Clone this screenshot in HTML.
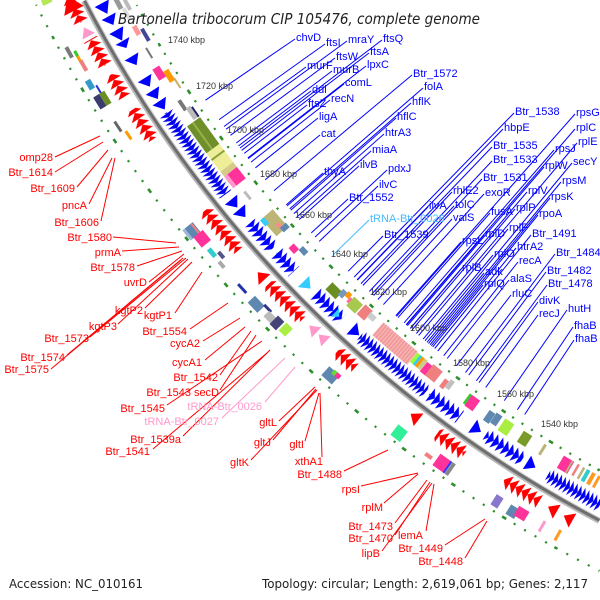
<!DOCTYPE html>
<html><head><meta charset="utf-8"><style>
html,body{margin:0;padding:0;background:#fff;width:600px;height:600px;overflow:hidden;}
svg{display:block;overflow:hidden;}
.b{fill:#0000ff;font-family:"Liberation Sans",sans-serif;font-size:11px;}
.r{fill:#ff0000;font-family:"Liberation Sans",sans-serif;font-size:11px;}
.k{fill:#333;font-family:"Liberation Sans",sans-serif;font-size:9px;}
</style></head><body>
<svg width="600" height="600" viewBox="0 0 600 600" xmlns="http://www.w3.org/2000/svg">
<defs>
<pattern id="rt" patternUnits="userSpaceOnUse" x="0" y="-1240" width="7" height="16"><polygon points="0,0 7,8 0,16" fill="#ff0000"/></pattern>
<pattern id="bt" patternUnits="userSpaceOnUse" x="0" y="-1213" width="6" height="16"><polygon points="6,0 0,8 6,16" fill="#0000ff"/></pattern>
<pattern id="bd" patternUnits="userSpaceOnUse" x="0" y="-1213" width="4.5" height="16"><polygon points="4.5,0 0,8 4.5,16" fill="#0000ee"/></pattern>
<pattern id="st" patternUnits="userSpaceOnUse" x="0" y="0" width="3" height="20"><rect x="0" y="0" width="3" height="20" fill="#f29a9a"/><rect x="1.5" y="0" width="0.8" height="20" fill="#f8c4c4"/></pattern>
</defs>
<rect width="600" height="600" fill="#fff"/>
<g transform="translate(1168,-558)" fill="none">
<!-- dotted rings -->
<path d="M -568.5 1128.9 A 1264 1264 0 0 1 -1131.9 562.7" stroke="#2d8f2d" stroke-width="2.2" stroke-dasharray="2.1 10.0295" stroke-dashoffset="1.05"/>
<path d="M -611.5 1106.3 A 1264 1264 0 0 1 -1115.2 595.0" stroke="#2d8f2d" stroke-width="2.6" stroke-dasharray="4.8 55.847" stroke-dashoffset="2.4"/>
<path d="M -568.4 1028.4 A 1175 1175 0 0 1 -1031.3 563.0" stroke="#2d8f2d" stroke-width="2.2" stroke-dasharray="2.1 9.1752" stroke-dashoffset="1.05"/>
<path d="M -568.4 1028.4 A 1175 1175 0 0 1 -1009.0 602.2" stroke="#2d8f2d" stroke-width="2.6" stroke-dasharray="4.8 51.576" stroke-dashoffset="2.4"/>
<!-- backbone -->
<path d="M -568.8 1078.7 A 1219.5 1219.5 0 0 1 -1083.9 558.9" stroke="#a8a8a8" stroke-width="6"/>
<path d="M -568.5 1078.3 A 1219 1219 0 0 1 -1083.4 558.7" stroke="#6e6e6e" stroke-width="3"/>
<path d="M -567.6 1076.4 A 1216.9 1216.9 0 0 1 -1081.6 557.8" stroke="#d0d0d0" stroke-width="1"/>
<path d="M -569.8 1080.8 A 1221.8 1221.8 0 0 1 -1085.9 560.0" stroke="#bdbdbd" stroke-width="1.2"/>
</g>

<g transform="translate(1168,-558)">
<!-- red forward chains -->
<rect transform="rotate(242.6)" x="-15" y="-1240" width="30" height="16" fill="url(#rt)"/>
<rect transform="rotate(240.3)" x="-15" y="-1240" width="30" height="16" fill="url(#rt)"/>
<rect transform="rotate(238.5)" x="-13" y="-1240" width="26" height="16" fill="url(#rt)"/>
<rect transform="rotate(236.35)" x="-18" y="-1240" width="36" height="16" fill="url(#rt)"/>
<rect transform="rotate(230.2)" x="-26" y="-1240" width="52" height="16" fill="url(#rt)"/>
<rect transform="rotate(225.75)" x="-24.5" y="-1240" width="49" height="16" fill="url(#rt)"/>
<rect transform="rotate(221.85)" x="-12" y="-1240" width="24" height="16" fill="url(#rt)"/>
<rect transform="rotate(215.6)" x="-17" y="-1240" width="34" height="16" fill="url(#rt)"/>
<rect transform="rotate(211.65)" x="-20.5" y="-1240" width="41" height="16" fill="url(#rt)"/>
<polygon transform="rotate(227.4)" points="-5,-1240 5,-1232 -5,-1224" fill="#ff0000"/>
<polygon transform="rotate(217.7)" points="-5,-1240 5,-1232 -5,-1224" fill="#ff0000"/>
<polygon transform="rotate(209.98)" points="-5,-1240 5,-1232 -5,-1224" fill="#ff0000"/>
<polygon transform="rotate(209.14)" points="-5,-1240 5,-1232 -5,-1224" fill="#ff0000"/>
<polygon transform="rotate(242.9)" points="-8,-1244 8,-1232 -8,-1222" fill="#ff0000"/>
<polygon transform="rotate(241.4)" points="-5,-1239 5,-1232 -5,-1225" fill="#ff99cc"/>
<polygon transform="rotate(223.95)" points="-5,-1239 5,-1232 -5,-1225" fill="#ff99cc"/>
<polygon transform="rotate(223.35)" points="-5,-1239 5,-1232 -5,-1225" fill="#ff99cc"/>

<!-- blue reverse chains -->
<rect transform="rotate(233.8)" x="-50.5" y="-1213" width="101" height="16" fill="url(#bd)"/>
<rect transform="rotate(228.8)" x="-17" y="-1213" width="34" height="16" fill="url(#bt)"/>
<rect transform="rotate(227.1)" x="-12.5" y="-1213" width="25" height="16" fill="url(#bt)"/>
<rect transform="rotate(224.15)" x="-18" y="-1213" width="36" height="16" fill="url(#bt)"/>
<rect transform="rotate(220.05)" x="-43" y="-1213" width="86" height="16" fill="url(#bd)"/>
<rect transform="rotate(216.9)" x="-19" y="-1213" width="38" height="16" fill="url(#bt)"/>
<rect transform="rotate(213.45)" x="-22" y="-1213" width="44" height="16" fill="url(#bt)"/>
<rect transform="rotate(209.55)" x="-30" y="-1213" width="60" height="16" fill="url(#bd)"/>
<g fill="#0000ff">
<polygon transform="rotate(241.95)" points="6,-1213 -6,-1205 6,-1197"/>
<polygon transform="rotate(241.3)" points="5,-1213 -5,-1205 5,-1197"/>
<polygon transform="rotate(240.5)" points="6,-1213 -6,-1205 6,-1197"/>
<polygon transform="rotate(240.0)" points="4,-1213 -4,-1205 4,-1197"/>
<polygon transform="rotate(239.1)" points="5,-1213 -5,-1205 5,-1197"/>
<polygon transform="rotate(237.9)" points="5,-1213 -5,-1205 5,-1197"/>
<polygon transform="rotate(237.2)" points="5,-1213 -5,-1205 5,-1197"/>
<polygon transform="rotate(236.6)" points="5,-1213 -5,-1205 5,-1197"/>
<polygon transform="rotate(230.8)" points="5,-1213 -5,-1205 5,-1197"/>
<polygon transform="rotate(230.2)" points="5,-1213 -5,-1205 5,-1197"/>
<polygon transform="rotate(222.4)" points="5,-1213 -5,-1205 5,-1197"/>
<polygon transform="rotate(215.0)" points="5,-1213 -5,-1205 5,-1197"/>
<polygon transform="rotate(211.9)" points="5,-1213 -5,-1205 5,-1197"/>
</g>
<polygon transform="rotate(225.6)" points="5,-1213 -5,-1205 5,-1197" fill="#33ccff"/>
<polygon transform="rotate(223.6)" points="3,-1211 -3,-1205 3,-1199" fill="#33ccff"/>

<!-- outer blocks -->
<rect transform="rotate(243.5)" x="-3" y="-1258" width="6" height="10" fill="#b5e655"/>
<rect transform="rotate(240.95)" x="-6" y="-1259" width="12" height="4" fill="#7a7a7a"/>
<rect transform="rotate(240.6)" x="-6" y="-1253" width="12" height="3" fill="#ff9900"/>
<rect transform="rotate(240.75)" x="-3" y="-1253" width="6" height="3" fill="#33cc33"/>
<rect transform="rotate(240.1)" x="-6" y="-1253" width="12" height="4" fill="#f08080"/>
<rect transform="rotate(239.2)" x="-5" y="-1258" width="10" height="6" fill="#3399cc"/>
<rect transform="rotate(238.8)" x="-5" y="-1251" width="10" height="2" fill="#2233cc"/>
<rect transform="rotate(238.3)" x="-7" y="-1259" width="14" height="7" fill="#3b3b6e"/>
<rect transform="rotate(238.3)" x="-7" y="-1252" width="14" height="6" fill="#6b8e23"/>
<rect transform="rotate(236.9)" x="-6" y="-1255" width="12" height="3" fill="#666"/>
<rect transform="rotate(236.3)" x="-5" y="-1251" width="10" height="3" fill="#ff9900"/>
<rect transform="rotate(231.07)" x="-7" y="-1262" width="13" height="13" fill="#5f88b0"/>
<rect transform="rotate(231.07)" x="-7" y="-1262" width="13" height="3" fill="#9bbad6"/>
<rect transform="rotate(231.07)" x="-7" y="-1252" width="13" height="2" fill="#f08080"/>
<rect transform="rotate(230.5)" x="-7" y="-1258" width="13" height="12" fill="#ff3399"/>
<rect transform="rotate(229.7)" x="-5" y="-1256" width="10" height="5" fill="#33cccc"/>
<rect transform="rotate(229.35)" x="-4" y="-1250" width="8" height="4" fill="#555588"/>
<rect transform="rotate(229.0)" x="-4" y="-1256" width="8" height="4" fill="#aaaaaa"/>
<rect transform="rotate(227.56)" x="-6" y="-1256" width="12" height="3" fill="#2233aa"/>
<rect transform="rotate(226.6)" x="-7" y="-1260" width="14" height="10" fill="#5f88b0"/>
<rect transform="rotate(226.1)" x="-5" y="-1251" width="10" height="3" fill="#333388"/>
<rect transform="rotate(225.7)" x="-6" y="-1258" width="12" height="8" fill="#bbbbbb"/>
<rect transform="rotate(225.35)" x="-5" y="-1259" width="9" height="12" fill="#444477"/>
<rect transform="rotate(224.85)" x="-5" y="-1257" width="9" height="11" fill="#aaee44"/>
<rect transform="rotate(221.9)" x="-7" y="-1260" width="14" height="12" fill="#5f88b0"/>
<rect transform="rotate(221.65)" x="-3" y="-1252" width="6" height="5" fill="#ff3399"/>
<rect transform="rotate(221.85)" x="-2" y="-1252" width="4" height="5" fill="#66dd33"/>
<rect transform="rotate(217.8)" x="-6" y="-1261" width="12" height="13" fill="#33ee99"/>
<rect transform="rotate(216.1)" x="-4" y="-1257" width="8" height="4" fill="#f08080"/>
<rect transform="rotate(215.4)" x="-7" y="-1260" width="14" height="14" fill="#ff3399"/>
<rect transform="rotate(215.1)" x="-1" y="-1260" width="2" height="14" fill="#3333ff"/>
<rect transform="rotate(214.95)" x="-2" y="-1260" width="4" height="14" fill="#888"/>
<rect transform="rotate(212.35)" x="-4" y="-1260" width="8" height="12" fill="#8877cc"/>
<rect transform="rotate(211.5)" x="-5" y="-1260" width="10" height="11" fill="#5f88b0"/>
<rect transform="rotate(211.1)" x="-6" y="-1257" width="12" height="11" fill="#ff3399"/>
<rect transform="rotate(210.0)" x="-1.5" y="-1258" width="3" height="12" fill="#ff99cc"/>
<rect transform="rotate(209.17)" x="-1.5" y="-1258" width="3" height="12" fill="#ff9922"/>

<!-- inner blocks -->
<rect transform="rotate(241.9)" x="-7" y="-1193" width="14" height="5" fill="#999"/>
<rect transform="rotate(241.6)" x="-6" y="-1185" width="12" height="4" fill="#bbb"/>
<rect transform="rotate(241.25)" x="-6" y="-1190" width="12" height="4" fill="#ddd"/>
<rect transform="rotate(240.3)" x="-5" y="-1190" width="10" height="5" fill="#ff9999"/>
<rect transform="rotate(239.9)" x="-7" y="-1184" width="14" height="4" fill="#444499"/>
<rect transform="rotate(239.05)" x="-6" y="-1189" width="12" height="2" fill="#777"/>
<rect transform="rotate(237.97)" x="-6.5" y="-1194" width="13" height="8" fill="#ff3399"/>
<rect transform="rotate(237.6)" x="-6.5" y="-1186" width="13" height="6" fill="#ff9900"/>
<rect transform="rotate(237.1)" x="-6" y="-1181" width="12" height="2" fill="#ccaa66"/>
<rect transform="rotate(236.06)" x="-6" y="-1190" width="12" height="4" fill="#777"/>
<rect transform="rotate(235.5)" x="-7" y="-1187" width="14" height="5" fill="#bbb"/>
<rect transform="rotate(235.45)" x="-6" y="-1182" width="12" height="2" fill="#222266"/>
<rect transform="rotate(234.3)" x="-16.6" y="-1196" width="33.2" height="16" fill="#6f8f2a"/>
<rect transform="rotate(234.3)" x="-16.6" y="-1190" width="33.2" height="2" fill="#9ab04a"/>
<rect transform="rotate(232.95)" x="-11.4" y="-1196" width="22.8" height="16" fill="#eeee99"/>
<rect transform="rotate(233.1)" x="-1" y="-1196" width="2" height="16" fill="#8aa03a"/>
<rect transform="rotate(232.25)" x="-3.1" y="-1196" width="6.2" height="16" fill="#d4cc88"/>
<rect transform="rotate(231.75)" x="-7.25" y="-1196" width="14.5" height="16" fill="#ff3399"/>
<rect transform="rotate(231.75)" x="-7.25" y="-1196" width="14.5" height="4" fill="#ff99cc"/>
<rect transform="rotate(230.7)" x="-5" y="-1191" width="10" height="3" fill="#bbb"/>
<rect transform="rotate(228.85)" x="-11.4" y="-1194" width="22.8" height="15" fill="#bdb576"/>
<rect transform="rotate(229.2)" x="-4" y="-1196" width="8" height="5" fill="#33ccff"/>
<rect transform="rotate(228.6)" x="-3" y="-1187" width="6" height="4" fill="#ff8888"/>
<rect transform="rotate(228.35)" x="-3" y="-1186" width="6" height="8" fill="#5f88b0"/>
<rect transform="rotate(227.3)" x="-4" y="-1193" width="8" height="7" fill="#ff3399"/>
<rect transform="rotate(226.9)" x="-4" y="-1187" width="8" height="6" fill="#5f88b0"/>
<rect transform="rotate(224.5)" x="-7" y="-1195" width="14" height="10" fill="#6b8e23"/>
<rect transform="rotate(224.1)" x="-3" y="-1190" width="6" height="8" fill="#7799bb"/>
<rect transform="rotate(223.85)" x="-2.5" y="-1186" width="5" height="6" fill="#ff9900"/>
<rect transform="rotate(223.6)" x="-2.5" y="-1189" width="5" height="6" fill="#ff66aa"/>
<rect transform="rotate(223.3)" x="-6" y="-1192" width="12" height="12" fill="#a8c850"/>
<rect transform="rotate(222.7)" x="-5" y="-1191" width="10" height="13" fill="#f08080"/>
<rect transform="rotate(222.3)" x="-4" y="-1186" width="8" height="6" fill="#ccc"/>
<rect transform="rotate(220.6)" x="-22.8" y="-1196" width="45.6" height="17" fill="url(#st)"/>
<rect transform="rotate(219.4)" x="-2" y="-1192" width="4" height="12" fill="#99ff33"/>
<rect transform="rotate(219.25)" x="-1.5" y="-1192" width="3" height="12" fill="#33ccff"/>
<rect transform="rotate(219.1)" x="-2" y="-1192" width="4" height="12" fill="#ff9900"/>
<rect transform="rotate(218.95)" x="-2" y="-1192" width="4" height="12" fill="#cccc88"/>
<rect transform="rotate(218.65)" x="-4" y="-1193" width="8" height="12" fill="#ff3399"/>
<rect transform="rotate(218.25)" x="-6" y="-1193" width="12" height="14" fill="#f08080"/>
<rect transform="rotate(217.55)" x="-2.5" y="-1193" width="5" height="10" fill="#f08080"/>
<rect transform="rotate(217.3)" x="-2.5" y="-1190" width="5" height="10" fill="#c0c0c0"/>
<rect transform="rotate(216.2)" x="-1.5" y="-1192" width="3" height="12" fill="#33cc33"/>
<rect transform="rotate(215.9)" x="-5" y="-1193" width="10" height="13" fill="#ff3399"/>
<rect transform="rotate(214.85)" x="-3.5" y="-1194" width="7" height="12" fill="#5f88b0"/>
<rect transform="rotate(214.5)" x="-3.5" y="-1192" width="7" height="12" fill="#5f88b0"/>
<rect transform="rotate(213.9)" x="-5.5" y="-1194" width="11" height="14" fill="#aaee44"/>
<rect transform="rotate(212.84)" x="-5" y="-1193" width="10" height="13" fill="#7a9a2a"/>
<rect transform="rotate(211.83)" x="-1.5" y="-1192" width="3" height="12" fill="#bbb37a"/>
<rect transform="rotate(210.5)" x="-6" y="-1194" width="12" height="14" fill="#ff3399"/>
<rect transform="rotate(210.3)" x="-1" y="-1194" width="2" height="14" fill="#bbb37a"/>
<rect transform="rotate(209.95)" x="-1.2" y="-1193" width="2.5" height="13" fill="#f08080"/>
<rect transform="rotate(209.65)" x="-1.2" y="-1193" width="2.5" height="13" fill="#bbb37a"/>
<rect transform="rotate(209.4)" x="-2" y="-1193" width="4" height="13" fill="#33cccc"/>
<rect transform="rotate(209.1)" x="-2" y="-1193" width="4" height="13" fill="#ff9922"/>
<rect transform="rotate(208.8)" x="-1.5" y="-1193" width="3" height="13" fill="#ff9922"/>
</g>

<!-- blue label lines -->
<g stroke="#0000ff" stroke-width="1">
<line x1="295" y1="39" x2="205.5" y2="100.2"/>
<line x1="325" y1="44" x2="219.1" y2="119.6"/>
<line x1="347" y1="41" x2="226.1" y2="129.2"/>
<line x1="382" y1="40" x2="240.0" y2="148.0"/>
<line x1="335" y1="58" x2="230.5" y2="135.3"/>
<line x1="369" y1="53" x2="241.7" y2="150.3"/>
<line x1="306" y1="67" x2="224.0" y2="126.5"/>
<line x1="332" y1="71" x2="236.3" y2="143.0"/>
<line x1="366" y1="66" x2="247.8" y2="158.0"/>
<line x1="412" y1="75" x2="274.0" y2="190.6"/>
<line x1="344" y1="84" x2="248.2" y2="158.6"/>
<line x1="311" y1="91" x2="238.5" y2="145.9"/>
<line x1="423" y1="88" x2="287.1" y2="205.9"/>
<line x1="330" y1="100" x2="251.0" y2="162.1"/>
<line x1="307" y1="105" x2="244.2" y2="153.4"/>
<line x1="411" y1="103" x2="289.7" y2="208.9"/>
<line x1="318" y1="118" x2="255.4" y2="167.8"/>
<line x1="396" y1="118" x2="290.7" y2="210.2"/>
<line x1="320" y1="135" x2="265.2" y2="179.8"/>
<line x1="384" y1="134" x2="293.8" y2="213.6"/>
<line x1="371" y1="151" x2="296.8" y2="217.0"/>
<line x1="323" y1="173" x2="286.2" y2="204.9"/>
<line x1="359" y1="166" x2="299.2" y2="219.5"/>
<line x1="387" y1="170" x2="315.1" y2="237.0"/>
<line x1="378" y1="186" x2="319.2" y2="241.4"/>
<line x1="348" y1="199" x2="311.3" y2="232.9"/>
<line x1="514" y1="113" x2="354.2" y2="277.0"/>
<line x1="503" y1="129" x2="357.0" y2="279.8"/>
<line x1="492" y1="147" x2="361.0" y2="283.6"/>
<line x1="492" y1="161" x2="369.3" y2="291.5"/>
<line x1="482" y1="179" x2="373.6" y2="295.5"/>
<line x1="452" y1="192" x2="362.9" y2="285.4"/>
<line x1="484" y1="194" x2="383.4" y2="304.6"/>
<line x1="575" y1="114" x2="396.5" y2="316.3"/>
<line x1="575" y1="129" x2="406.1" y2="324.7"/>
<line x1="577" y1="143" x2="416.4" y2="333.5"/>
<line x1="554" y1="150" x2="404.1" y2="322.8"/>
<line x1="544" y1="167" x2="407.4" y2="325.7"/>
<line x1="572" y1="163" x2="425.1" y2="340.7"/>
<line x1="561" y1="182" x2="428.5" y2="343.5"/>
<line x1="527" y1="192" x2="410.4" y2="328.4"/>
<line x1="550" y1="198" x2="430.1" y2="344.7"/>
<line x1="428" y1="207" x2="357.3" y2="280.1"/>
<line x1="454" y1="206" x2="371.9" y2="293.9"/>
<line x1="452" y1="219" x2="377.9" y2="299.5"/>
<line x1="490" y1="213" x2="398.0" y2="317.6"/>
<line x1="515" y1="209" x2="412.1" y2="329.8"/>
<line x1="538" y1="215" x2="431.4" y2="345.8"/>
<line x1="383" y1="236" x2="348.2" y2="271.2"/>
<line x1="461" y1="242" x2="395.8" y2="315.7"/>
<line x1="484" y1="235" x2="406.4" y2="325.0"/>
<line x1="508" y1="229" x2="418.7" y2="335.4"/>
<line x1="531" y1="235" x2="437.8" y2="351.0"/>
<line x1="516" y1="248" x2="434.7" y2="348.5"/>
<line x1="493" y1="255" x2="423.2" y2="339.1"/>
<line x1="555" y1="254" x2="465.5" y2="372.6"/>
<line x1="518" y1="262" x2="443.7" y2="355.7"/>
<line x1="461" y1="269" x2="410.3" y2="328.3"/>
<line x1="484" y1="273" x2="427.0" y2="342.3"/>
<line x1="546" y1="272" x2="468.8" y2="375.1"/>
<line x1="509" y1="280" x2="447.2" y2="358.5"/>
<line x1="483" y1="285" x2="432.7" y2="346.9"/>
<line x1="547" y1="285" x2="476.4" y2="380.8"/>
<line x1="511" y1="295" x2="456.5" y2="365.7"/>
<line x1="538" y1="302" x2="479.0" y2="382.6"/>
<line x1="567" y1="310" x2="504.3" y2="400.6"/>
<line x1="538" y1="315" x2="485.7" y2="387.5"/>
<line x1="573" y1="327" x2="517.4" y2="409.7"/>
<line x1="574" y1="340" x2="524.7" y2="414.5"/>
</g>
<line x1="369" y1="220" x2="332.6" y2="255.4" stroke="#44bbff" stroke-width="1"/>

<!-- red label lines -->
<g stroke="#ff0000" stroke-width="1">
<line x1="55" y1="157" x2="100" y2="136"/>
<line x1="55" y1="172" x2="103" y2="142"/>
<line x1="77" y1="187" x2="108" y2="150"/>
<line x1="89" y1="204" x2="112" y2="158"/>
<line x1="101" y1="221" x2="115" y2="158"/>
<line x1="113" y1="237" x2="176" y2="243"/>
<line x1="122" y1="251" x2="179" y2="247"/>
<line x1="137" y1="266" x2="182" y2="251"/>
<line x1="149" y1="282" x2="184" y2="254"/>
<line x1="145" y1="308" x2="192" y2="262"/>
<line x1="175" y1="313" x2="202" y2="272"/>
<line x1="118" y1="324" x2="188" y2="259"/>
<line x1="90" y1="337" x2="186" y2="258"/>
<line x1="67" y1="355" x2="183" y2="258"/>
<line x1="51" y1="369" x2="181" y2="260"/>
<line x1="190" y1="329" x2="228" y2="303"/>
<line x1="203" y1="341" x2="240" y2="318"/>
<line x1="205" y1="360" x2="245" y2="327"/>
<line x1="220" y1="375" x2="251" y2="331"/>
<line x1="220" y1="390" x2="256" y2="335"/>
<line x1="167" y1="405" x2="262" y2="341"/>
<line x1="183" y1="436" x2="270" y2="350"/>
<line x1="153" y1="449" x2="267" y2="353"/>
<line x1="279" y1="421" x2="315" y2="387"/>
<line x1="273" y1="440" x2="316" y2="389"/>
<line x1="251" y1="460" x2="317" y2="390"/>
<line x1="305" y1="441" x2="319" y2="393"/>
<line x1="322" y1="457" x2="320" y2="393"/>
<line x1="344" y1="471" x2="388" y2="450"/>
<line x1="361" y1="486" x2="418" y2="473"/>
<line x1="384" y1="503" x2="418" y2="474"/>
<line x1="395" y1="523" x2="427" y2="480"/>
<line x1="395" y1="535" x2="430" y2="482"/>
<line x1="382" y1="551" x2="432" y2="483"/>
<line x1="426" y1="531" x2="434" y2="484"/>
<line x1="445" y1="545" x2="485" y2="519"/>
<line x1="465" y1="558" x2="487" y2="521"/>
</g>
<g stroke="#ff99cc" stroke-width="1">
<line x1="265" y1="402" x2="295" y2="367"/>
<line x1="222" y1="418" x2="285" y2="358"/>
</g>

<!-- tick labels -->
<text class="k" x="168" y="43">1740 kbp</text>
<text class="k" x="196" y="89">1720 kbp</text>
<text class="k" x="227" y="133">1700 kbp</text>
<text class="k" x="260" y="177">1680 kbp</text>
<text class="k" x="295" y="218">1660 kbp</text>
<text class="k" x="331" y="257">1640 kbp</text>
<text class="k" x="370" y="295">1620 kbp</text>
<text class="k" x="410" y="331">1600 kbp</text>
<text class="k" x="453" y="366">1580 kbp</text>
<text class="k" x="497" y="397">1560 kbp</text>
<text class="k" x="541" y="427">1540 kbp</text>

<!-- blue labels -->
<text class="b" x="296" y="41">chvD</text>
<text class="b" x="326" y="46">ftsI</text>
<text class="b" x="348" y="43">mraY</text>
<text class="b" x="383" y="42">ftsQ</text>
<text class="b" x="336" y="60">ftsW</text>
<text class="b" x="370" y="55">ftsA</text>
<text class="b" x="307" y="69">murF</text>
<text class="b" x="333" y="73">murB</text>
<text class="b" x="367" y="68">lpxC</text>
<text class="b" x="413" y="77">Btr_1572</text>
<text class="b" x="345" y="86">comL</text>
<text class="b" x="312" y="93">ddl</text>
<text class="b" x="424" y="90">folA</text>
<text class="b" x="331" y="102">recN</text>
<text class="b" x="308" y="107">ftsZ</text>
<text class="b" x="412" y="105">hflK</text>
<text class="b" x="319" y="120">ligA</text>
<text class="b" x="397" y="120">hflC</text>
<text class="b" x="321" y="137">cat</text>
<text class="b" x="385" y="136">htrA3</text>
<text class="b" x="372" y="153">miaA</text>
<text class="b" x="324" y="175">thyA</text>
<text class="b" x="360" y="168">ilvB</text>
<text class="b" x="388" y="172">pdxJ</text>
<text class="b" x="379" y="188">ilvC</text>
<text class="b" x="349" y="201">Btr_1552</text>
<text class="b" x="515" y="115">Btr_1538</text>
<text class="b" x="504" y="131">hbpE</text>
<text class="b" x="493" y="149">Btr_1535</text>
<text class="b" x="493" y="163">Btr_1533</text>
<text class="b" x="483" y="181">Btr_1531</text>
<text class="b" x="453" y="194">rhlE2</text>
<text class="b" x="485" y="196">exoR</text>
<text class="b" x="576" y="116">rpsG</text>
<text class="b" x="576" y="131">rplC</text>
<text class="b" x="578" y="145">rplE</text>
<text class="b" x="555" y="152">rpsJ</text>
<text class="b" x="545" y="169">rplW</text>
<text class="b" x="573" y="165">secY</text>
<text class="b" x="562" y="184">rpsM</text>
<text class="b" x="528" y="194">rplV</text>
<text class="b" x="551" y="200">rpsK</text>
<text class="b" x="429" y="209">ilvA</text>
<text class="b" x="455" y="208">tolC</text>
<text class="b" x="453" y="221">valS</text>
<text class="b" x="491" y="215">fusA</text>
<text class="b" x="516" y="211">rplP</text>
<text class="b" x="539" y="217">rpoA</text>
<text x="370" y="222" style="fill:#44bbff;font-family:'Liberation Sans',sans-serif;font-size:11px">tRNA-Btr_0028</text>
<text class="b" x="384" y="238">Btr_1539</text>
<text class="b" x="462" y="244">rpsL</text>
<text class="b" x="485" y="237">rplD</text>
<text class="b" x="509" y="231">rplF</text>
<text class="b" x="532" y="237">Btr_1491</text>
<text class="b" x="517" y="250">htrA2</text>
<text class="b" x="494" y="257">rplO</text>
<text class="b" x="556" y="256">Btr_1484</text>
<text class="b" x="519" y="264">recA</text>
<text class="b" x="462" y="271">rplB</text>
<text class="b" x="485" y="275">adk</text>
<text class="b" x="547" y="274">Btr_1482</text>
<text class="b" x="510" y="282">alaS</text>
<text class="b" x="484" y="287">rplQ</text>
<text class="b" x="548" y="287">Btr_1478</text>
<text class="b" x="512" y="297">rluC</text>
<text class="b" x="539" y="304">divK</text>
<text class="b" x="568" y="312">hutH</text>
<text class="b" x="539" y="317">recJ</text>
<text class="b" x="574" y="329">fhaB</text>
<text class="b" x="575" y="342">fhaB</text>

<!-- red labels -->
<g text-anchor="end">
<text class="r" x="53" y="161">omp28</text>
<text class="r" x="53" y="176">Btr_1614</text>
<text class="r" x="75" y="192">Btr_1609</text>
<text class="r" x="87" y="209">pncA</text>
<text class="r" x="99" y="226">Btr_1606</text>
<text class="r" x="112" y="241">Btr_1580</text>
<text class="r" x="121" y="256">prmA</text>
<text class="r" x="135" y="271">Btr_1578</text>
<text class="r" x="147" y="286">uvrD</text>
<text class="r" x="143" y="314">kgtP2</text>
<text class="r" x="172" y="319">kgtP1</text>
<text class="r" x="117" y="330">kgtP3</text>
<text class="r" x="89" y="342">Btr_1573</text>
<text class="r" x="65" y="361">Btr_1574</text>
<text class="r" x="49" y="373">Btr_1575</text>
<text class="r" x="187" y="335">Btr_1554</text>
<text class="r" x="200" y="347">cycA2</text>
<text class="r" x="202" y="366">cycA1</text>
<text class="r" x="218" y="381">Btr_1542</text>
<text class="r" x="191" y="396">Btr_1543</text>
<text class="r" x="219" y="396">secD</text>
<text class="r" x="165" y="412">Btr_1545</text>
<text x="262" y="410" style="fill:#ff99cc;font-family:'Liberation Sans',sans-serif;font-size:11px">tRNA-Btr_0026</text>
<text x="219" y="425" style="fill:#ff99cc;font-family:'Liberation Sans',sans-serif;font-size:11px">tRNA-Btr_0027</text>
<text class="r" x="181" y="443">Btr_1539a</text>
<text class="r" x="150" y="455">Btr_1541</text>
<text class="r" x="277" y="426">gltL</text>
<text class="r" x="271" y="446">gltJ</text>
<text class="r" x="249" y="466">gltK</text>
<text class="r" x="304" y="448">gltI</text>
<text class="r" x="323" y="465">xthA1</text>
<text class="r" x="342" y="478">Btr_1488</text>
<text class="r" x="360" y="493">rpsI</text>
<text class="r" x="383" y="511">rplM</text>
<text class="r" x="393" y="530">Btr_1473</text>
<text class="r" x="393" y="542">Btr_1470</text>
<text class="r" x="380" y="557">lipB</text>
<text class="r" x="423" y="539">lemA</text>
<text class="r" x="443" y="552">Btr_1449</text>
<text class="r" x="463" y="565">Btr_1448</text>
</g>

<!-- title & footer -->
<text x="118" y="24" textLength="362" lengthAdjust="spacingAndGlyphs" style="fill:#222;font-family:'DejaVu Sans','Liberation Sans',sans-serif;font-style:italic;font-size:15px">Bartonella tribocorum CIP 105476, complete genome</text>
<text x="9" y="588" textLength="134" lengthAdjust="spacingAndGlyphs" style="fill:#222;font-family:'DejaVu Sans','Liberation Sans',sans-serif;font-size:12.5px">Accession: NC_010161</text>
<text x="262" y="588" textLength="326" lengthAdjust="spacingAndGlyphs" style="fill:#222;font-family:'DejaVu Sans','Liberation Sans',sans-serif;font-size:12.5px">Topology: circular; Length: 2,619,061 bp; Genes: 2,117</text>
</svg>
</body></html>
